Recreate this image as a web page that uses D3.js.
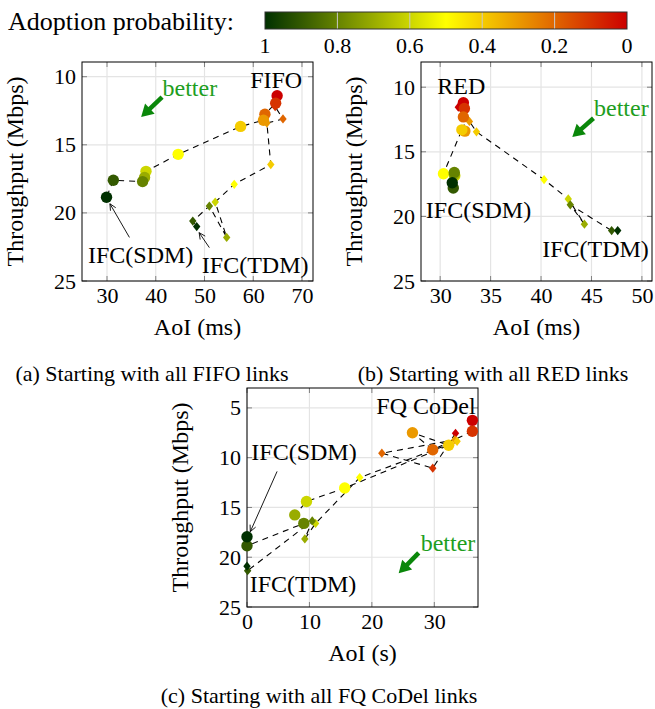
<!DOCTYPE html>
<html>
<head>
<meta charset="utf-8">
<script src="https://cdn.jsdelivr.net/npm/d3@7"></script>
<style>
  body { margin: 0; background: #fff; }
  svg { display: block; }
  text { font-family: "Liberation Serif", "Times New Roman", serif; }
</style>
</head>
<body>
<svg id="fig" width="655" height="709"></svg>
<script>
// adoption probability of every point, same order in every series
const probs = [0, 0.1, 0.2, 0.3, 0.4, 0.5, 0.6, 0.7, 0.8, 0.9, 1];

// (a) starting with FIFO
const fifoSdmX = [64.9, 64.6, 62.4, 62.1, 57.4, 44.6, 38.0, 37.7, 37.3, 31.3, 29.9];
const fifoSdmY = [11.4, 11.95, 12.75, 13.2, 13.65, 15.7, 16.95, 17.4, 17.7, 17.6, 18.85];
const fifoTdmX = [64.9, 64.5, 66.1, 62.8, 63.6, 56.1, 52.2, 54.55, 51.0, 47.6, 48.4];
const fifoTdmY = [11.6, 12.2, 13.1, 13.4, 16.45, 17.9, 19.2, 21.8, 19.5, 20.6, 21.0];

// (b) starting with RED
const redSdmX = [32.3, 32.4, 32.3, 32.45, 32.15, 30.33, 31.45, 31.4, 31.4, 31.3, 31.2];
const redSdmY = [11.2, 11.65, 12.3, 13.4, 13.3, 16.7, 16.85, 16.75, 16.6, 17.8, 17.4];
const redTdmX = [31.8, 32.4, 32.5, 32.9, 33.6, 40.3, 42.7, 44.3, 42.9, 47.0, 47.6];
const redTdmY = [11.55, 11.8, 12.3, 12.65, 13.45, 17.15, 18.65, 20.6, 19.1, 21.1, 21.1];

// (c) starting with FQ CoDel
const fqSdmX = [36.1, 36.1, 29.75, 26.5, 32.3, 15.65, 9.53, 7.65, 9.1, 0, 0];
const fqSdmY = [6.25, 7.35, 9.2, 7.5, 8.75, 13.05, 14.4, 15.75, 16.6, 18.85, 17.95];
const fqTdmX = [33.4, 29.75, 21.6, 33.3, 33.65, 18.05, 10.98, 9.26, 10.45, 0.1, 0];
const fqTdmY = [7.55, 11.05, 9.55, 8.2, 8.35, 12.0, 16.6, 18.16, 16.35, 21.35, 20.9];

// axis ticks
const aXTicks = [30, 40, 50, 60, 70];
const bXTicks = [30, 35, 40, 45, 50];
const cXTicks = [0, 10, 20, 30];
const abYTicks = [10, 15, 20, 25];
const cYTicks = [5, 10, 15, 20, 25];
const barTicks = [1, 0.8, 0.6, 0.4, 0.2, 0];

// colormap: dark green (1) -> yellow (0.5) -> red (0)
const color = d3.scaleLinear().domain([1, 0.5, 0]).range(["#003000", "#ffff00", "#cc0000"]);

const svg = d3.select("#fig");
svg.append("rect").attr("width", 655).attr("height", 709).attr("fill", "#fff");

const FS = 24;
const W = 231, H = 219;

// ----- colour bar -----
const barX = d3.scaleLinear().domain([1, 0]).range([265, 627]);
const defs = svg.append("defs");
const grad = defs.append("linearGradient").attr("id", "cbar");
d3.range(0, 1.0001, 0.05).forEach(t => {
  grad.append("stop").attr("offset", t).attr("stop-color", color(1 - t));
});
svg.append("text").attr("x", 8).attr("y", 30).attr("font-size", 26).text("Adoption probability:");
svg.append("rect").attr("x", 265).attr("y", 12).attr("width", 362).attr("height", 17)
  .attr("fill", "url(#cbar)");
svg.append("g").selectAll("line").data(barTicks.slice(1, -1)).join("line")
  .attr("x1", d => barX(d)).attr("x2", d => barX(d)).attr("y1", 12).attr("y2", 29)
  .attr("stroke", "#c8c8c8").attr("stroke-width", 1);
svg.append("rect").attr("x", 265).attr("y", 12).attr("width", 362).attr("height", 17)
  .attr("fill", "none").attr("stroke", "#333").attr("stroke-width", 1);
svg.append("g").selectAll("text").data(barTicks).join("text")
  .attr("x", d => barX(d)).attr("y", 53).attr("text-anchor", "middle")
  .attr("font-size", 22).text(d => d);

const diamond = (s) => `M0,${-s * 1.25}L${s},0L0,${s * 1.25}L${-s},0Z`;

function toPts(xs, ys) {
  return probs.map((p, i) => ({ p, x: xs[i], y: ys[i] }));
}

function drawPanel(p) {
  const g = svg.append("g").attr("transform", `translate(${p.left},${p.top})`);
  const x = d3.scaleLinear().domain(p.xDom).range([0, W]);
  const y = d3.scaleLinear().domain(p.yDom).range([0, H]);

  // grid
  g.append("g").selectAll("line").data(p.xTicks).join("line")
    .attr("x1", d => x(d)).attr("x2", d => x(d)).attr("y1", 0).attr("y2", H)
    .attr("stroke", "#e4e4e4").attr("stroke-width", 1.2);
  g.append("g").selectAll("line").data(p.yTicks).join("line")
    .attr("y1", d => y(d)).attr("y2", d => y(d)).attr("x1", 0).attr("x2", W)
    .attr("stroke", "#e4e4e4").attr("stroke-width", 1.2);

  // inner ticks on all four sides
  const tk = g.append("g").attr("stroke", "#808080").attr("stroke-width", 1);
  p.xTicks.forEach(d => {
    tk.append("line").attr("x1", x(d)).attr("x2", x(d)).attr("y1", H).attr("y2", H - 5);
    tk.append("line").attr("x1", x(d)).attr("x2", x(d)).attr("y1", 0).attr("y2", 5);
  });
  p.yTicks.forEach(d => {
    tk.append("line").attr("y1", y(d)).attr("y2", y(d)).attr("x1", 0).attr("x2", 5);
    tk.append("line").attr("y1", y(d)).attr("y2", y(d)).attr("x1", W).attr("x2", W - 5);
  });

  // tick labels
  const xa = g.append("g").attr("transform", `translate(0,${H})`)
    .call(d3.axisBottom(x).tickValues(p.xTicks).tickSize(0).tickPadding(6));
  const ya = g.append("g")
    .call(d3.axisLeft(y).tickValues(p.yTicks).tickSize(0).tickPadding(6));
  [xa, ya].forEach(a => {
    a.attr("font-family", null).attr("font-size", 22);
    a.select(".domain").remove();
    a.selectAll("text").attr("fill", "#000");
  });

  g.append("rect").attr("width", W).attr("height", H)
    .attr("fill", "none").attr("stroke", "#000").attr("stroke-width", 1);

  // axis titles
  g.append("text").attr("x", W / 2).attr("y", H + 54).attr("text-anchor", "middle")
    .attr("font-size", FS).text(p.xLabel);
  g.append("text").attr("transform", `translate(-59,${H / 2}) rotate(-90)`)
    .attr("text-anchor", "middle").attr("font-size", FS).text("Throughput (Mbps)");

  // dashed connecting lines
  const line = d3.line().x(d => x(d.x)).y(d => y(d.y));
  [p.tdm, p.sdm].forEach(s => {
    g.append("path").datum(s).attr("d", line).attr("fill", "none")
      .attr("stroke", "#000").attr("stroke-width", 1.1).attr("stroke-dasharray", "6,5");
  });

  // markers
  g.append("g").selectAll("path").data(p.tdm).join("path")
    .attr("transform", d => `translate(${x(d.x)},${y(d.y)})`)
    .attr("d", diamond(3.7)).attr("fill", d => color(d.p));
  g.append("g").selectAll("circle").data(p.sdm).join("circle")
    .attr("cx", d => x(d.x)).attr("cy", d => y(d.y)).attr("r", 5.7)
    .attr("fill", d => color(d.p));

  // annotation texts
  p.labels.forEach(l => {
    g.append("text").attr("x", x(l.x)).attr("y", y(l.y)).attr("dy", "0.34em")
      .attr("text-anchor", "middle").attr("font-size", FS).text(l.t);
  });

  // thin label arrows
  p.arrows.forEach(a => {
    const x0 = x(a.x0), y0 = y(a.y0), x1 = x(a.x1), y1 = y(a.y1);
    const ang = Math.atan2(y1 - y0, x1 - x0);
    g.append("line").attr("x1", x0).attr("y1", y0).attr("x2", x1).attr("y2", y1)
      .attr("stroke", "#000").attr("stroke-width", 0.9);
    const hl = 7, ha = 0.45;
    g.append("path")
      .attr("d", `M${x1 - hl * Math.cos(ang - ha)},${y1 - hl * Math.sin(ang - ha)}L${x1},${y1}L${x1 - hl * Math.cos(ang + ha)},${y1 - hl * Math.sin(ang + ha)}`)
      .attr("fill", "none").attr("stroke", "#000").attr("stroke-width", 0.9);
  });

  // "better" hint
  const b = p.better;
  g.append("text").attr("x", x(b.tx)).attr("y", y(b.ty)).attr("dy", "0.34em")
    .attr("text-anchor", "middle").attr("font-size", FS).attr("fill", "#1e9e1e").text("better");
  const bx0 = x(b.x0), by0 = y(b.y0), bx1 = x(b.x1), by1 = y(b.y1);
  const ang = Math.atan2(by1 - by0, bx1 - bx0);
  const hl = 12, hw = 7;
  const bxb = bx1 - hl * Math.cos(ang), byb = by1 - hl * Math.sin(ang);
  g.append("line").attr("x1", bx0).attr("y1", by0).attr("x2", bxb + 2 * Math.cos(ang)).attr("y2", byb + 2 * Math.sin(ang))
    .attr("stroke", "#0a870a").attr("stroke-width", 4.5);
  g.append("path")
    .attr("d", `M${bx1},${by1}L${bxb + hw * Math.sin(ang)},${byb - hw * Math.cos(ang)}L${bxb - hw * Math.sin(ang)},${byb + hw * Math.cos(ang)}Z`)
    .attr("fill", "#0a870a");

  // caption
  svg.append("text").attr("x", p.capX).attr("y", p.capY).attr("text-anchor", "middle")
    .attr("font-size", 22).text(p.caption);
}

drawPanel({
  left: 82, top: 62, xDom: [24.87, 72.26], yDom: [8.92, 25],
  xTicks: aXTicks, yTicks: abYTicks, xLabel: "AoI (ms)",
  sdm: toPts(fifoSdmX, fifoSdmY), tdm: toPts(fifoTdmX, fifoTdmY),
  labels: [{ t: "FIFO", x: 64.7, y: 10.24 }, { t: "IFC(SDM)", x: 36.9, y: 23.1 }, { t: "IFC(TDM)", x: 60.4, y: 23.85 }],
  arrows: [{ x0: 34.6, y0: 21.8, x1: 30.6, y1: 19.33 }, { x0: 51.0, y0: 22.55, x1: 48.9, y1: 21.45 }],
  better: { tx: 47.0, ty: 10.83, x0: 41.3, y0: 11.5, x1: 37.0, y1: 12.95 },
  caption: "(a) Starting with all FIFO links", capX: 152, capY: 381
});

drawPanel({
  left: 421, top: 62, xDom: [28.1, 51.0], yDom: [8.05, 25],
  xTicks: bXTicks, yTicks: abYTicks, xLabel: "AoI (ms)",
  sdm: toPts(redSdmX, redSdmY), tdm: toPts(redTdmX, redTdmY),
  labels: [{ t: "RED", x: 32.1, y: 9.9 }, { t: "IFC(SDM)", x: 33.8, y: 19.5 }, { t: "IFC(TDM)", x: 45.4, y: 22.5 }],
  arrows: [],
  better: { tx: 47.96, ty: 11.6, x0: 45.2, y0: 12.4, x1: 43.1, y1: 13.85 },
  caption: "(b) Starting with all RED links", capX: 493, capY: 381
});

drawPanel({
  left: 247, top: 388, xDom: [0, 37], yDom: [3, 25],
  xTicks: cXTicks, yTicks: cYTicks, xLabel: "AoI (s)",
  sdm: toPts(fqSdmX, fqSdmY), tdm: toPts(fqTdmX, fqTdmY),
  labels: [{ t: "FQ CoDel", x: 28.67, y: 4.82 }, { t: "IFC(SDM)", x: 9.13, y: 9.4 }, { t: "IFC(TDM)", x: 8.97, y: 22.7 }],
  arrows: [{ x0: 4.82, y0: 11.38, x1: 0.53, y1: 17.43 }],
  better: { tx: 32.2, ty: 18.6, x0: 27.5, y0: 19.57, x1: 24.3, y1: 21.6 },
  caption: "(c) Starting with all FQ CoDel links", capX: 319, capY: 703
});
</script>
</body>
</html>
